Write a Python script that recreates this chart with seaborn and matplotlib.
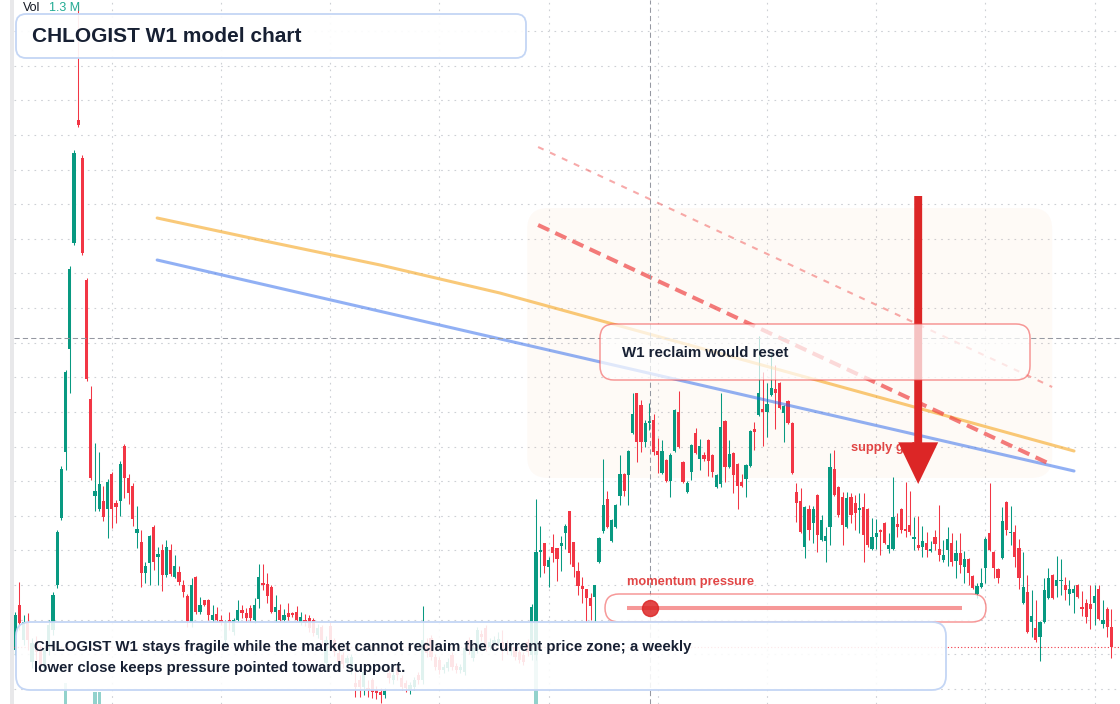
import numpy as np
import pandas as pd
import matplotlib
matplotlib.use('Agg')
import matplotlib.pyplot as plt
import seaborn as sns
from matplotlib.patches import FancyBboxPatch, Rectangle
from matplotlib.lines import Line2D
from matplotlib.transforms import IdentityTransform

# ---- dados semanais (preço em centavos, volume em milhares) ----
abertura = [
    54, 99, 64, 82, 42, 62, 54, 36, 54, 74,
    119, 186, 252, 355, 461, 584, 546, 424, 305, 208,
    195, 203, 195, 230, 201, 203, 258, 226, 218, 171,
    162, 131, 141, 177, 147, 154, 129, 154, 127, 132,
    119, 108, 82, 127, 92, 104, 104, 84, 90, 84,
    64, 84, 72, 84, 94, 91, 96, 84, 105, 121,
    120, 117, 92, 94, 84, 91, 91, 92, 82, 84,
    86, 84, 69, 77, 41, 78, 64, 51, 49, 41,
    34, 21, 24, 17, 16, 24, 14, 12, 9, 31,
    24, 36, 26, 21, 14, 17, 29, 24, 62, 66,
    47, 44, 34, 36, 49, 38, 34, 32, 64, 46,
    54, 70, 76, 57, 61, 61, 62, 61, 52, 57,
    52, 49, 62, 49, 49, 152, 161, 137, 157, 156,
    158, 171, 193, 162, 133, 118, 115, 106, 107, 142,
    173, 205, 163, 177, 208, 230, 229, 271, 311, 299,
    262, 281, 284, 253, 231, 244, 223, 253, 292, 242,
    212, 232, 271, 245, 249, 264, 249, 217, 220, 283,
    237, 251, 240, 222, 225, 238, 275, 289, 295, 292,
    309, 315, 321, 291, 303, 281, 212, 203, 157, 195,
    181, 209, 164, 163, 177, 235, 217, 207, 177, 207,
    201, 194, 197, 195, 155, 167, 174, 181, 155, 155,
    180, 195, 175, 179, 165, 159, 157, 161, 153, 167,
    155, 144, 154, 161, 143, 151, 137, 145, 128, 110,
    117, 136, 171, 152, 135, 146, 202, 171, 172, 156,
    101, 112, 82, 76, 67, 82, 106, 129, 118, 123,
    119, 110, 111, 119, 97, 101, 100, 101, 115, 80,
    95, 77,
]
maxima = [
    92, 122, 89, 91, 66, 68, 59, 59, 84, 112,
    174, 238, 334, 438, 554, 699, 549, 426, 318, 261,
    252, 218, 225, 232, 204, 243, 260, 230, 221, 198,
    174, 142, 169, 179, 157, 160, 164, 160, 149, 138,
    124, 110, 126, 128, 107, 104, 105, 99, 97, 89,
    84, 92, 86, 104, 99, 96, 99, 106, 140, 140,
    131, 119, 109, 100, 95, 101, 92, 98, 92, 90,
    89, 86, 80, 79, 68, 82, 66, 54, 52, 49,
    50, 32, 29, 36, 24, 26, 18, 16, 16, 36,
    32, 39, 29, 24, 22, 27, 32, 98, 66, 69,
    50, 47, 40, 46, 52, 41, 40, 59, 67, 59,
    77, 74, 79, 66, 68, 72, 74, 64, 58, 60,
    55, 52, 65, 100, 205, 178, 161, 147, 170, 156,
    168, 180, 193, 162, 142, 127, 115, 111, 119, 167,
    245, 213, 185, 200, 249, 231, 254, 311, 311, 304,
    284, 301, 290, 266, 264, 245, 251, 295, 313, 243,
    223, 260, 276, 265, 252, 265, 250, 230, 311, 284,
    264, 252, 241, 230, 240, 274, 282, 368, 332, 321,
    352, 339, 322, 299, 304, 282, 221, 216, 198, 199,
    198, 210, 189, 177, 251, 254, 218, 212, 212, 211,
    209, 211, 211, 196, 186, 185, 175, 182, 171, 227,
    191, 196, 222, 213, 187, 188, 178, 172, 163, 174,
    199, 164, 177, 171, 164, 171, 153, 146, 129, 121,
    136, 167, 221, 153, 136, 197, 203, 198, 179, 165,
    152, 129, 114, 104, 83, 126, 136, 130, 148, 145,
    127, 124, 119, 120, 113, 105, 119, 119, 119, 104,
    97, 95,
]
minima = [
    49, 74, 59, 54, 36, 44, 32, 32, 49, 69,
    116, 184, 234, 311, 459, 577, 449, 323, 224, 193,
    193, 183, 166, 176, 181, 188, 206, 200, 178, 156,
    117, 121, 119, 134, 119, 113, 127, 128, 126, 119,
    107, 77, 77, 90, 90, 98, 84, 82, 82, 79,
    59, 74, 69, 82, 86, 82, 82, 81, 96, 114,
    101, 91, 82, 83, 83, 84, 87, 83, 79, 78,
    72, 68, 66, 59, 38, 54, 48, 39, 36, 37,
    30, 7, 7, 9, 7, 6, 5, 1, 6, 21,
    20, 24, 14, 12, 10, 14, 20, 20, 47, 44,
    34, 30, 31, 33, 34, 31, 31, 29, 50, 43,
    51, 63, 53, 54, 58, 58, 44, 50, 49, 44,
    41, 39, 48, 44, 44, 127, 131, 117, 142, 123,
    133, 155, 140, 127, 109, 101, 82, 84, 82, 141,
    171, 176, 162, 176, 199, 208, 199, 270, 242, 252,
    257, 274, 249, 231, 230, 222, 207, 252, 256, 221,
    211, 224, 250, 234, 243, 228, 227, 216, 217, 222,
    236, 211, 195, 217, 207, 237, 254, 288, 258, 267,
    308, 275, 295, 262, 280, 230, 182, 171, 146, 164,
    161, 152, 163, 142, 159, 208, 187, 159, 176, 181,
    174, 171, 142, 157, 154, 155, 149, 160, 151, 154,
    167, 171, 167, 169, 154, 154, 147, 147, 152, 154,
    143, 142, 138, 138, 126, 131, 121, 119, 115, 106,
    116, 121, 153, 126, 121, 145, 169, 159, 137, 115,
    100, 71, 67, 62, 43, 81, 105, 105, 107, 109,
    104, 99, 91, 106, 88, 81, 75, 79, 84, 76,
    67, 46,
]
fechamento = [
    89, 81, 82, 64, 61, 52, 39, 54, 79, 109,
    172, 235, 332, 435, 551, 579, 451, 325, 226, 213,
    220, 187, 222, 195, 197, 240, 226, 211, 185, 175,
    131, 138, 168, 142, 150, 129, 157, 130, 138, 122,
    112, 83, 119, 92, 99, 99, 89, 89, 84, 82,
    81, 82, 84, 94, 91, 86, 86, 99, 127, 119,
    108, 92, 97, 84, 89, 87, 89, 84, 87, 81,
    76, 71, 76, 64, 64, 64, 52, 42, 40, 46,
    47, 17, 17, 32, 14, 12, 11, 9, 13, 26,
    29, 29, 17, 16, 19, 24, 24, 64, 51, 47,
    37, 34, 37, 42, 37, 34, 37, 56, 54, 56,
    74, 67, 56, 62, 64, 65, 56, 54, 54, 47,
    44, 42, 52, 97, 152, 154, 138, 144, 151, 145,
    161, 178, 151, 137, 118, 115, 106, 98, 119, 166,
    199, 177, 184, 199, 230, 213, 253, 290, 262, 262,
    281, 283, 252, 249, 253, 223, 249, 294, 257, 222,
    221, 259, 251, 258, 245, 243, 232, 229, 277, 237,
    250, 229, 218, 218, 239, 273, 272, 311, 292, 300,
    316, 311, 296, 298, 281, 231, 201, 172, 197, 174,
    195, 169, 184, 168, 237, 209, 189, 179, 206, 189,
    191, 196, 169, 159, 167, 171, 172, 161, 159, 187,
    177, 174, 173, 172, 167, 156, 163, 154, 155, 160,
    149, 149, 165, 142, 151, 139, 145, 131, 116, 118,
    121, 165, 154, 136, 126, 183, 174, 172, 147, 126,
    117, 72, 88, 64, 82, 114, 126, 106, 124, 124,
    114, 115, 115, 107, 95, 87, 95, 108, 85, 84,
    77, 57,
]
volume = [
    8, 6, 5, 5, 4, 4, 4, 4, 6, 9,
    10, 10, 460, 10, 10, 9, 9, 8, 8, 260,
    270, 8, 7, 7, 6, 7, 7, 6, 6, 5,
    6, 5, 5, 5, 4, 5, 4, 4, 4, 4,
    4, 5, 5, 4, 3, 3, 3, 3, 3, 3,
    3, 3, 3, 3, 3, 3, 3, 3, 5, 4,
    4, 4, 3, 3, 3, 3, 2, 3, 3, 2,
    3, 3, 2, 3, 3, 3, 3, 3, 2, 2,
    2, 3, 3, 3, 2, 2, 2, 3, 2, 3,
    2, 2, 2, 2, 2, 2, 2, 8, 4, 3,
    3, 3, 2, 2, 3, 2, 2, 3, 3, 3,
    3, 3, 3, 2, 2, 2, 3, 2, 2, 2,
    2, 2, 3, 10, 1300, 10, 9, 8, 7, 7,
    6, 6, 9, 7, 6, 5, 6, 5, 6, 7,
    10, 9, 8, 7, 9, 7, 8, 10, 10, 9,
    7, 6, 8, 6, 6, 6, 7, 9, 8, 6,
    6, 6, 7, 6, 4, 6, 5, 4, 10, 8,
    6, 6, 6, 4, 5, 6, 5, 10, 7, 6,
    8, 6, 6, 5, 6, 9, 8, 7, 7, 6,
    6, 7, 5, 4, 9, 7, 6, 6, 6, 5,
    4, 4, 6, 6, 4, 4, 4, 4, 4, 6,
    4, 4, 5, 4, 4, 4, 4, 4, 3, 3,
    4, 3, 4, 4, 4, 4, 3, 4, 3, 3,
    3, 6, 7, 4, 4, 6, 6, 4, 5, 6,
    5, 7, 5, 5, 6, 6, 4, 4, 4, 3,
    3, 3, 3, 3, 4, 4, 4, 4, 4, 4,
    4, 5,
]

# linhas de tendência (índice da semana, preço)
tend_sup_x = [33.8, 58.3, 86.9, 115.4, 142.3, 182.1, 252.1]
tend_sup_y = [486, 464, 439, 411, 380, 334, 253]
tend_inf_x = [33.8, 252.1]
tend_inf_y = [444, 233]

# canal de oferta (tracejado)
canal_x = [124.5, 246.9]
canal_topo = [557, 317]
canal_meio = [479, 239]

zona_x = (121.9, 246.9)
zona_y = (226, 496)

seta_x = 215.0
seta_de, seta_ate = 508, 220
rotulo_oferta = (199.0, 256)

cursor_x, cursor_y = 151.1, 366
momentum = 0.07

titulo = 'CHLOGIST W1 model chart'
texto_caixa = 'W1 reclaim would reset'
texto_rodape = [
    'CHLOGIST W1 stays fragile while the market cannot reclaim the current price zone; a weekly',
    'lower close keeps pressure pointed toward support.',
]

VERDE = '#089981'
VERMELHO = '#f23645'
SETA = '#dc2626'
TEXTO = '#172033'
W, H = 1120, 704


def caixa(fig, x0, y0, x1, y1, raio, face, borda, lw=1.1, z=2):
    """Caixa arredondada em pixels (origem no canto superior esquerdo)"""
    p = FancyBboxPatch((x0, H - y1), x1 - x0, y1 - y0,
                       boxstyle=f'round,pad=0,rounding_size={raio}',
                       transform=IdentityTransform(), facecolor=face,
                       edgecolor=borda, linewidth=lw, zorder=z)
    fig.add_artist(p)


def texto(fig, x, y, s, **kw):
    fig.text(x / W, 1 - y / H, s, va='center', ha='left', **kw)


sns.set_theme(style='white')
plt.rcParams['font.family'] = ['Liberation Sans', 'DejaVu Sans']

df = pd.DataFrame({'o': abertura, 'h': maxima, 'l': minima, 'c': fechamento, 'v': volume})
df['idx'] = np.arange(len(df))
alta = df['c'] >= df['o']
cores = np.where(alta, VERDE, VERMELHO)

fig = plt.figure(figsize=(W / 100, H / 100), dpi=100)
fig.patch.set_facecolor('white')
pos = [14 / W, 0, (W - 14) / W, 1]
xlim = (-0.286, 263.05)

# volume por baixo
ax_vol = fig.add_axes(pos)
ax_vol.set_zorder(0)
ax_vol.bar(df['idx'], df['v'], width=0.72, linewidth=0,
           color=np.where(alta, '#26a69a', '#ef5350'), alpha=0.5)
ax_vol.set_xlim(*xlim)
ax_vol.set_ylim(0, df['v'].max() * 11.7)
ax_vol.axis('off')

ax = fig.add_axes(pos)
ax.set_zorder(1)
ax.patch.set_alpha(0)
ax.set_xlim(*xlim)
ax.set_ylim(0, H)

# grade pontilhada
ax.set_xticks(np.arange(23, 262, 26))
ax.set_yticks(15 + 34.63 * np.arange(20))
ax.grid(True, color='#cdd0d5', lw=0.8, ls=(0, (1.5, 4.5)))
ax.set_axisbelow(True)
ax.tick_params(length=0, labelleft=False, labelbottom=False)
for s in ax.spines.values():
    s.set_visible(False)

# zona sombreada
zona = FancyBboxPatch((zona_x[0], zona_y[0]), zona_x[1] - zona_x[0], zona_y[1] - zona_y[0],
                      boxstyle='round,pad=0,rounding_size=5', mutation_aspect=4.2,
                      facecolor='#f97316', alpha=0.035, lw=0, zorder=0.6)
ax.add_patch(zona)

# candles
ax.vlines(df['idx'], df['l'], df['h'], colors=cores, lw=0.75, zorder=2)
corpo = np.maximum((df['c'] - df['o']).abs(), 1)
ax.bar(df['idx'], corpo, bottom=np.minimum(df['o'], df['c']), width=0.72,
       color=cores, linewidth=0, zorder=2.1)

# tendências
sns.lineplot(x=tend_sup_x, y=tend_sup_y, ax=ax, color='#f59e0b', alpha=0.55, lw=2.2, sort=False, zorder=3)
sns.lineplot(x=tend_inf_x, y=tend_inf_y, ax=ax, color='#2563eb', alpha=0.5, lw=2.2, sort=False, zorder=3)
ax.plot(canal_x, canal_topo, color='#ef4444', alpha=0.45, lw=1.5, ls=(0, (2.9, 3.4)), zorder=3)
ax.plot(canal_x, canal_meio, color='#ef4444', alpha=0.7, lw=2.9, ls=(0, (3.0, 1.7)), zorder=3)

# cursor e preço atual
ax.axvline(cursor_x, color='#9598a1', lw=0.75, ls=(0, (5, 3)), zorder=3.5)
ax.axhline(cursor_y, color='#9598a1', lw=0.75, ls=(0, (5, 3)), zorder=3.5)
ax.axhline(df['c'].iloc[-1], color=VERMELHO, lw=0.8, ls=(0, (1, 2)), zorder=3.5)

ax.text(*rotulo_oferta, 'supply guide', color=SETA, alpha=0.85, fontsize=9.3,
        fontweight='bold', va='center', ha='left', zorder=4)
ax.annotate('', xy=(seta_x, seta_ate), xytext=(seta_x, seta_de),
            arrowprops=dict(arrowstyle='simple,head_length=1.0,head_width=0.96,tail_width=0.19',
                            mutation_scale=30, color=SETA, lw=0, shrinkA=0, shrinkB=0),
            zorder=5)

# faixa cinza da esquerda
fig.add_artist(Rectangle((10, 0), 4, H, transform=IdentityTransform(),
                         facecolor='#e8e8ea', lw=0, zorder=2))

# caixas de anotação
caixa(fig, 16, 14, 526, 58, 10, (1, 1, 1, 0.92), '#c4d6f5', lw=1.3)
texto(fig, 32, 36, titulo, fontsize=15, fontweight='bold', color=TEXTO, zorder=3)

caixa(fig, 600, 324, 1030, 380, 14, (1, 1, 1, 0.72), (0.94, 0.27, 0.27, 0.55))
texto(fig, 622, 353, texto_caixa, fontsize=10.8, fontweight='bold', color=TEXTO, zorder=3)

texto(fig, 627, 582, 'momentum pressure', fontsize=9.3, fontweight='bold',
      color=SETA, alpha=0.85, zorder=3)
caixa(fig, 605, 594, 986, 622, 14, (1, 1, 1, 0.8), (0.94, 0.27, 0.27, 0.55))
fig.add_artist(Line2D([627, 962], [H - 608, H - 608], transform=IdentityTransform(),
                      color='#ef4444', alpha=0.55, lw=2.9, solid_capstyle='butt', zorder=4))
x_mom = 627 + momentum * (962 - 627)
fig.add_artist(Line2D([x_mom], [H - 608], transform=IdentityTransform(), marker='o',
                      markersize=11.5, color=SETA, alpha=0.85, lw=0, zorder=4))

caixa(fig, 16, 622, 946, 690, 14, (1, 1, 1, 0.88), '#c4d6f5', lw=1.3)
texto(fig, 34, 647, texto_rodape[0], fontsize=10.8, fontweight='bold', color=TEXTO, zorder=3)
texto(fig, 34, 668, texto_rodape[1], fontsize=10.8, fontweight='bold', color=TEXTO, zorder=3)

# rótulo de volume
texto(fig, 23, 8, 'Vol', fontsize=9, color='#131722', zorder=3)
texto(fig, 49, 8, f"{df['v'].max() / 1000:.1f} M", fontsize=9, color='#22ab94', zorder=3)

fig.savefig('out.png', dpi=100, facecolor='white')
